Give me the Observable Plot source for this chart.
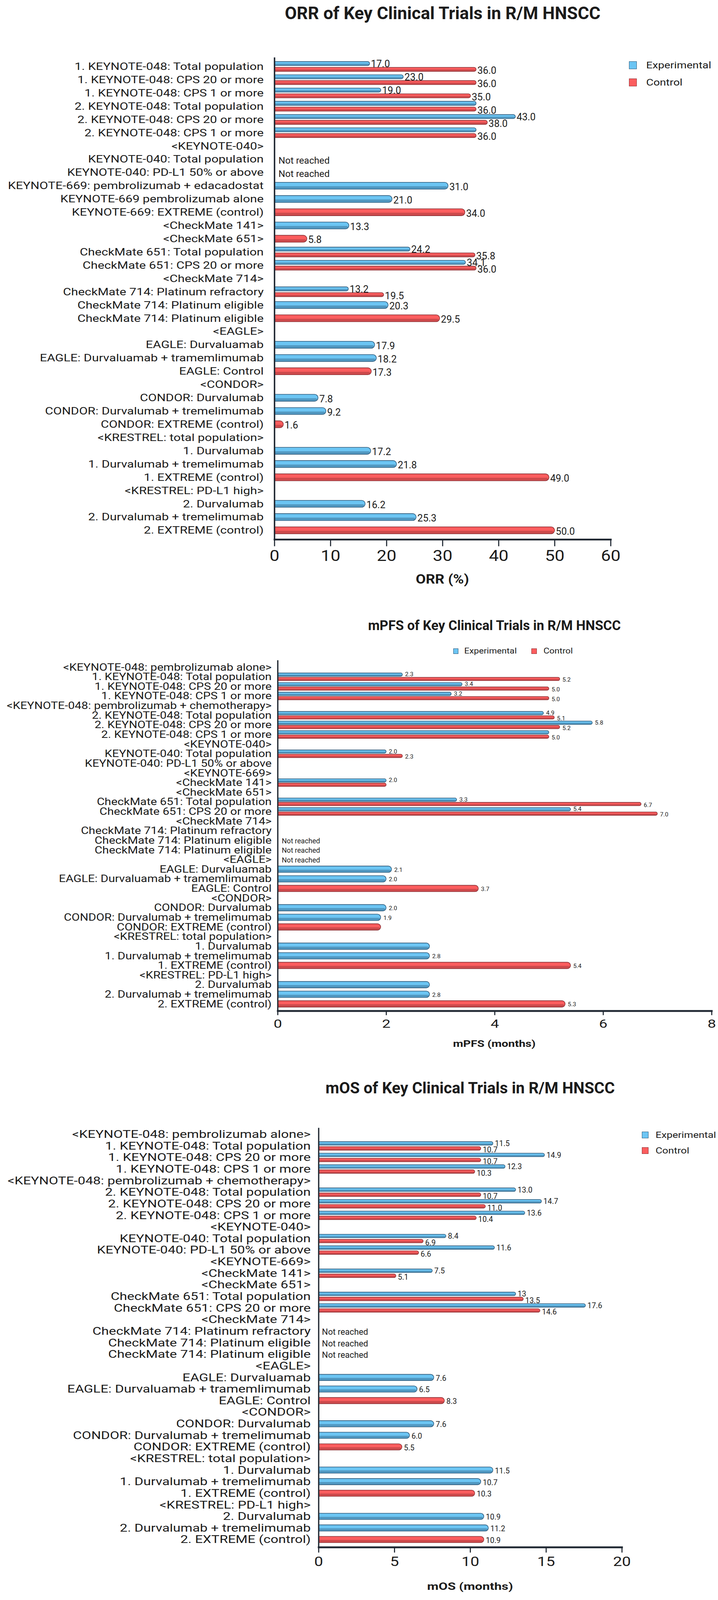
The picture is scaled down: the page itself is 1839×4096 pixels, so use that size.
<!DOCTYPE html>
<html>
<head>
<meta charset="utf-8">
<script src="https://cdn.jsdelivr.net/npm/d3@7"></script>
<script src="https://cdn.jsdelivr.net/npm/@observablehq/plot@0.6"></script>
<style>
  html, body { margin: 0; padding: 0; background: #ffffff; }
  #page { position: relative; width: 1839px; height: 4096px; overflow: hidden; font-family: Roboto, "Noto Sans", sans-serif; color: #1b1b1b; }
  .t { position: absolute; white-space: nowrap; line-height: 1; }
  .sw { position: absolute; box-sizing: border-box; }
</style>
</head>
<body>
<div id="page"></div>
<script>
// ---------------- DATA ----------------
const seriesNames = ["Experimental", "Control"];
const chartTitles = ["ORR of Key Clinical Trials in R/M HNSCC", "mPFS of Key Clinical Trials in R/M HNSCC", "mOS of Key Clinical Trials in R/M HNSCC"];
const axisTitles = ["ORR (%)", "mPFS (months)", "mOS (months)"];

const orrTicks = [0, 10, 20, 30, 40, 50, 60];
const mpfsTicks = [0, 2, 4, 6, 8];
const mosTicks = [0, 5, 10, 15, 20];

const orrCategories = [
  "1. KEYNOTE-048: Total population",
  "1. KEYNOTE-048: CPS 20 or more",
  "1. KEYNOTE-048: CPS 1 or more",
  "2. KEYNOTE-048: Total population",
  "2. KEYNOTE-048: CPS 20 or more",
  "2. KEYNOTE-048: CPS 1 or more",
  "<KEYNOTE-040>",
  "KEYNOTE-040: Total population",
  "KEYNOTE-040: PD-L1 50% or above",
  "KEYNOTE-669: pembrolizumab + edacadostat",
  "KEYNOTE-669 pembrolizumab alone",
  "KEYNOTE-669: EXTREME (control)",
  "<CheckMate 141>",
  "<CheckMate 651>",
  "CheckMate 651: Total population",
  "CheckMate 651: CPS 20 or more",
  "<CheckMate 714>",
  "CheckMate 714: Platinum refractory",
  "CheckMate 714: Platinum eligible",
  "CheckMate 714: Platinum eligible",
  "<EAGLE>",
  "EAGLE: Durvaluamab",
  "EAGLE: Durvaluamab + tramemlimumab",
  "EAGLE: Control",
  "<CONDOR>",
  "CONDOR: Durvalumab",
  "CONDOR: Durvalumab + tremelimumab",
  "CONDOR: EXTREME (control)",
  "<KRESTREL: total population>",
  "1. Durvalumab",
  "1. Durvalumab + tremelimumab",
  "1. EXTREME (control)",
  "<KRESTREL: PD-L1 high>",
  "2. Durvalumab",
  "2. Durvalumab + tremelimumab",
  "2. EXTREME (control)"
];
const orrExperimental = [17.0, 23.0, 19.0, 36.0, 43.0, 36.0, null, null, null, 31.0, 21.0, null, 13.3, null, 24.2, 34.1, null, 13.2, 20.3, null, null, 17.9, 18.2, null, null, 7.8, 9.2, null, null, 17.2, 21.8, null, null, 16.2, 25.3, null];
const orrControl = [36.0, 36.0, 35.0, 36.0, 38.0, 36.0, null, null, null, null, null, 34.0, null, 5.8, 35.8, 36.0, null, 19.5, null, 29.5, null, null, null, 17.3, null, null, null, 1.6, null, null, null, 49.0, null, null, null, 50.0];
const orrExperimentalLabels = ["17.0", "23.0", "19.0", "", "43.0", "", "", "", "", "31.0", "21.0", "", "13.3", "", "24.2", "34.1", "", "13.2", "20.3", "", "", "17.9", "18.2", "", "", "7.8", "9.2", "", "", "17.2", "21.8", "", "", "16.2", "25.3", ""];
const orrControlLabels = ["36.0", "36.0", "35.0", "36.0", "38.0", "36.0", "", "", "", "", "", "34.0", "", "5.8", "35.8", "36.0", "", "19.5", "", "29.5", "", "", "", "17.3", "", "", "", "1.6", "", "", "", "49.0", "", "", "", "50.0"];
const orrNotes = ["", "", "", "", "", "", "", "Not reached", "Not reached", "", "", "", "", "", "", "", "", "", "", "", "", "", "", "", "", "", "", "", "", "", "", "", "", "", "", ""];

const survCategories = [
  "<KEYNOTE-048: pembrolizumab alone>",
  "1. KEYNOTE-048: Total population",
  "1. KEYNOTE-048: CPS 20 or more",
  "1. KEYNOTE-048: CPS 1 or more",
  "<KEYNOTE-048: pembrolizumab + chemotherapy>",
  "2. KEYNOTE-048: Total population",
  "2. KEYNOTE-048: CPS 20 or more",
  "2. KEYNOTE-048: CPS 1 or more",
  "<KEYNOTE-040>",
  "KEYNOTE-040: Total population",
  "KEYNOTE-040: PD-L1 50% or above",
  "<KEYNOTE-669>",
  "<CheckMate 141>",
  "<CheckMate 651>",
  "CheckMate 651: Total population",
  "CheckMate 651: CPS 20 or more",
  "<CheckMate 714>",
  "CheckMate 714: Platinum refractory",
  "CheckMate 714: Platinum eligible",
  "CheckMate 714: Platinum eligible",
  "<EAGLE>",
  "EAGLE: Durvaluamab",
  "EAGLE: Durvaluamab + tramemlimumab",
  "EAGLE: Control",
  "<CONDOR>",
  "CONDOR: Durvalumab",
  "CONDOR: Durvalumab + tremelimumab",
  "CONDOR: EXTREME (control)",
  "<KRESTREL: total population>",
  "1. Durvalumab",
  "1. Durvalumab + tremelimumab",
  "1. EXTREME (control)",
  "<KRESTREL: PD-L1 high>",
  "2. Durvalumab",
  "2. Durvalumab + tremelimumab",
  "2. EXTREME (control)"
];

const mpfsExperimental = [null, 2.3, 3.4, 3.2, null, 4.9, 5.8, 5.0, null, 2.0, null, null, 2.0, null, 3.3, 5.4, null, null, null, null, null, 2.1, 2.0, null, null, 2.0, 1.9, null, null, 2.8, 2.8, null, null, 2.8, 2.8, null];
const mpfsControl = [null, 5.2, 5.0, 5.0, null, 5.1, 5.2, 5.0, null, 2.3, null, null, 2.0, null, 6.7, 7.0, null, null, null, null, null, null, null, 3.7, null, null, null, 1.9, null, null, null, 5.4, null, null, null, 5.3];
const mpfsExperimentalLabels = ["", "2.3", "3.4", "3.2", "", "4.9", "5.8", "", "", "2.0", "", "", "2.0", "", "3.3", "5.4", "", "", "", "", "", "2.1", "2.0", "", "", "2.0", "1.9", "", "", "", "2.8", "", "", "", "2.8", ""];
const mpfsControlLabels = ["", "5.2", "5.0", "5.0", "", "5.1", "5.2", "5.0", "", "2.3", "", "", "", "", "6.7", "7.0", "", "", "", "", "", "", "", "3.7", "", "", "", "", "", "", "", "5.4", "", "", "", "5.3"];
const mpfsNotes = ["", "", "", "", "", "", "", "", "", "", "", "", "", "", "", "", "", "", "Not reached", "Not reached", "Not reached", "", "", "", "", "", "", "", "", "", "", "", "", "", "", ""];

const mosExperimental = [null, 11.5, 14.9, 12.3, null, 13.0, 14.7, 13.6, null, 8.4, 11.6, null, 7.5, null, 13.0, 17.6, null, null, null, null, null, 7.6, 6.5, null, null, 7.6, 6.0, null, null, 11.5, 10.7, null, null, 10.9, 11.2, null];
const mosControl = [null, 10.7, 10.7, 10.3, null, 10.7, 11.0, 10.4, null, 6.9, 6.6, null, 5.1, null, 13.5, 14.6, null, null, null, null, null, null, null, 8.3, null, null, null, 5.5, null, null, null, 10.3, null, null, null, 10.9];
const mosExperimentalLabels = ["", "11.5", "14.9", "12.3", "", "13.0", "14.7", "13.6", "", "8.4", "11.6", "", "7.5", "", "13", "17.6", "", "", "", "", "", "7.6", "6.5", "", "", "7.6", "6.0", "", "", "11.5", "10.7", "", "", "10.9", "11.2", ""];
const mosControlLabels = ["", "10.7", "10.7", "10.3", "", "10.7", "11.0", "10.4", "", "6.9", "6.6", "", "5.1", "", "13.5", "14.6", "", "", "", "", "", "", "", "8.3", "", "", "", "5.5", "", "", "", "10.3", "", "", "", "10.9"];
const mosNotes = ["", "", "", "", "", "", "", "", "", "", "", "", "", "", "", "", "", "Not reached", "Not reached", "Not reached", "", "", "", "", "", "", "", "", "", "", "", "", "", "", "", ""];

// ---------------- STYLE / LAYOUT (reference pixels, scaled by K) ----------------
const K = 0.927;
const W = 1839;
const BLUE = "#6CC5F3", BLUE_D = "#2E5A7B";
const RED = "#FB5D5E", RED_D = "#8C3035";
const AXIS = "#1f2731", TEXT = "#1b1b1b";

const pv = (Plot.version || "0.6.0").split(".").map(Number);
const CORNERS = pv[0] > 0 || pv[1] > 6 || (pv[1] === 6 && pv[2] >= 14);

const layouts = [
  {svgTop: 130, svgBottom: 1580, frameTop: 158, frameBottom: 1489, x0: 758, xMax: 1687, xMaxVal: 60,
   firstRow: 183, lastRow: 1464, tp: 11, off: 8, ts: 19,
   yFs: 28, ySx: 1.24, yPad: 30, tickFs: 42, tickSx: 1.15, tickSize: 19, tickPad: 10,
   xStroke: 5, yStroke: 4, tickStroke: 3,
   valFs: 27, valSx: 1.0, valDx: 3, dyExp: -7, dyCtrl: 11, dySingle: 3,
   noteFs: 26, noteSx: 1.08, noteDx: 11,
   title: {cx: 1223, cy: 37, fs: 48}, axisTitle: {cx: 1222, cy: 1599, fs: 36, sx: 1.12},
   legend: {fs: 26, sx: 1.19, size: 21, items: [{sx: 1738, cy: 180, tx: 1785}, {sx: 1738, cy: 227.5, tx: 1785}]}},
  {svgTop: 1800, svgBottom: 2860, frameTop: 1823, frameBottom: 2791, x0: 767, xMax: 1966, xMaxVal: 8,
   firstRow: 1842, lastRow: 2772, tp: 9, off: 6, ts: 17.5,
   yFs: 27.5, ySx: 1.2, yPad: 17, tickFs: 32, tickSx: 1.3, tickSize: 12, tickPad: 12,
   xStroke: 5, yStroke: 3.5, tickStroke: 3,
   valFs: 16.5, valSx: 1.33, valDx: 7, dyExp: -7, dyCtrl: 8, dySingle: 1,
   noteFs: 19.5, noteSx: 1.2, noteDx: 11,
   title: {cx: 1366, cy: 1727, fs: 37}, axisTitle: {cx: 1366, cy: 2882, fs: 26, sx: 1.25},
   legend: {fs: 21, sx: 1.19, size: 15, items: [{sx: 1252, cy: 1798, tx: 1283}, {sx: 1468, cy: 1798, tx: 1502}]}},
  {svgTop: 3090, svgBottom: 4350, frameTop: 3115, frameBottom: 4273, x0: 880, xMax: 1718, xMaxVal: 20,
   firstRow: 3133, lastRow: 4252, tp: 9.5, off: 7, ts: 17,
   yFs: 29.5, ySx: 1.28, yPad: 22, tickFs: 35, tickSx: 1.25, tickSize: 15, tickPad: 12,
   xStroke: 5, yStroke: 3.5, tickStroke: 3,
   valFs: 21, valSx: 1.2, valDx: 5, dyExp: -6.5, dyCtrl: 11, dySingle: 2,
   noteFs: 23.5, noteSx: 1.08, noteDx: 9,
   title: {cx: 1299, cy: 3005, fs: 43.5}, axisTitle: {cx: 1299, cy: 4382, fs: 28, sx: 1.3},
   legend: {fs: 24, sx: 1.2, size: 18.5, items: [{sx: 1773, cy: 3134, tx: 1811}, {sx: 1773, cy: 3177, tx: 1811}]}}
];

const panels = [
  {rows: orrCategories, exp: orrExperimental, ctrl: orrControl, expText: orrExperimentalLabels, ctrlText: orrControlLabels, notes: orrNotes, ticks: orrTicks},
  {rows: survCategories, exp: mpfsExperimental, ctrl: mpfsControl, expText: mpfsExperimentalLabels, ctrlText: mpfsControlLabels, notes: mpfsNotes, ticks: mpfsTicks},
  {rows: survCategories, exp: mosExperimental, ctrl: mosControl, expText: mosExperimentalLabels, ctrlText: mosControlLabels, notes: mosNotes, ticks: mosTicks}
];

const page = document.getElementById("page");

function stretch(svg, label, sx) {
  if (sx === 1) return;
  svg.querySelectorAll(`g[aria-label="${label}"] text`).forEach((t) => {
    const tr = t.getAttribute("transform");
    if (tr) t.setAttribute("transform", `${tr} scale(${sx},1)`);
    else {
      const x = +t.getAttribute("x") || 0, y = +t.getAttribute("y") || 0;
      t.removeAttribute("x"); t.removeAttribute("y");
      t.setAttribute("transform", `translate(${x},${y}) scale(${sx},1)`);
    }
  });
}

function addText(str, o) {
  const d = document.createElement("div");
  d.className = "t";
  d.textContent = str;
  const fs = o.fs * K;
  d.style.fontSize = fs + "px";
  d.style.fontWeight = o.weight || 400;
  d.style.left = o.x * K + "px";
  d.style.top = (o.cy * K - 0.49 * fs) + "px";
  const sx = o.sx || 1;
  if (o.anchor === "middle") {
    d.style.transformOrigin = "center center";
    d.style.transform = `translateX(-50%) scaleX(${sx})`;
  } else {
    d.style.transformOrigin = "left center";
    d.style.transform = `scaleX(${sx})`;
  }
  page.appendChild(d);
}

function addSwatch(o, fill, stroke) {
  const d = document.createElement("div");
  d.className = "sw";
  const s = o.size * K;
  d.style.left = o.x * K + "px";
  d.style.top = (o.cy * K - s / 2) + "px";
  d.style.width = s + "px";
  d.style.height = s + "px";
  d.style.background = fill;
  d.style.border = `${2 * K}px solid ${stroke}`;
  page.appendChild(d);
}

function barGroup(rows, field, color, dark, top, bottom, t) {
  const th = t * K;
  const r = th / 2;
  const shadeT = th * 0.38;
  const round = CORNERS ? {rx2: r} : {rx: r};
  const roundS = CORNERS ? {rx2: shadeT / 2} : {rx: shadeT / 2};
  return [
    Plot.barX(rows, {x: field, y: "i", fill: color, insetTop: top, insetBottom: bottom, ...round}),
    Plot.barX(rows, {x: field, y: "i", fill: dark, fillOpacity: 0.42, insetTop: top + th - shadeT - 0.9, insetBottom: bottom + 0.9, insetRight: th * 0.14, ...roundS}),
    Plot.barX(rows, {x: field, y: "i", fill: "none", stroke: dark, strokeWidth: 1.6, insetTop: top, insetBottom: bottom, ...round})
  ];
}

panels.forEach((P, pi) => {
  const L = layouts[pi];
  const n = P.rows.length;
  const data = P.rows.map((label, i) => ({i, label, exp: P.exp[i], ctrl: P.ctrl[i], expText: P.expText[i], ctrlText: P.ctrlText[i], note: P.notes[i]}));
  const s = (L.lastRow - L.firstRow) / (n - 1);
  const b = s * K;
  const insetTop = (L.firstRow - s / 2 - L.frameTop) * K;
  const insetBottom = (L.frameBottom - (L.lastRow + s / 2)) * K;
  const height = (L.svgBottom - L.svgTop) * K;
  const marginTop = (L.frameTop - L.svgTop) * K;
  const marginBottom = (L.svgBottom - L.frameBottom) * K;
  const marginLeft = L.x0 * K;
  const marginRight = W - L.xMax * K;

  const paired = data.filter((d) => d.exp != null && d.ctrl != null);
  const singleExp = data.filter((d) => d.exp != null && d.ctrl == null);
  const singleCtrl = data.filter((d) => d.ctrl != null && d.exp == null);

  const tp = L.tp * K, off = L.off * K, ts = L.ts * K;
  const topA = b / 2 - off - tp / 2, botA = b / 2 + off - tp / 2;
  const sIn = (b - ts) / 2;

  const bars = [
    ...barGroup(paired, "exp", BLUE, BLUE_D, topA, botA, L.tp),
    ...barGroup(paired, "ctrl", RED, RED_D, botA, topA, L.tp),
    ...barGroup(singleExp, "exp", BLUE, BLUE_D, sIn, sIn, L.ts),
    ...barGroup(singleCtrl, "ctrl", RED, RED_D, sIn, sIn, L.ts)
  ];

  const txt = {textAnchor: "start", fontSize: L.valFs * K, fill: TEXT, dx: L.valDx * K, ariaLabel: "value-label"};
  const labels = [
    Plot.text(paired.filter((d) => d.expText), {...txt, x: "exp", y: "i", text: "expText", dy: L.dyExp * K}),
    Plot.text(paired.filter((d) => d.ctrlText), {...txt, x: "ctrl", y: "i", text: "ctrlText", dy: L.dyCtrl * K}),
    Plot.text(singleExp.filter((d) => d.expText), {...txt, x: "exp", y: "i", text: "expText", dy: L.dySingle * K}),
    Plot.text(singleCtrl.filter((d) => d.ctrlText), {...txt, x: "ctrl", y: "i", text: "ctrlText", dy: L.dySingle * K}),
    Plot.text(data.filter((d) => d.note), {x: () => 0, y: "i", text: "note", textAnchor: "start", fontSize: L.noteFs * K, fill: TEXT, dx: L.noteDx * K, dy: L.dySingle * K, ariaLabel: "note-label"})
  ];

  const svg = Plot.plot({
    width: W, height, marginTop, marginBottom, marginLeft, marginRight,
    style: {fontFamily: "Roboto, 'Noto Sans', sans-serif", background: "transparent", color: TEXT, overflow: "visible"},
    x: {domain: [0, L.xMaxVal]},
    y: {type: "band", domain: d3.range(n), padding: 0, insetTop, insetBottom, round: false},
    marks: [
      ...bars,
      ...labels,
      Plot.ruleX([0], {stroke: AXIS, strokeWidth: L.yStroke * K}),
      Plot.frame({anchor: "bottom", stroke: AXIS, strokeWidth: L.xStroke * K}),
      Plot.axisY({tickSize: 0, tickPadding: L.yPad * K, fontSize: L.yFs * K, tickFormat: (i) => P.rows[i], label: null, fill: TEXT}),
      Plot.axisX({ticks: P.ticks, tickFormat: (d) => String(d), tickSize: L.tickSize * K, tickPadding: L.tickPad * K, fontSize: L.tickFs * K, stroke: AXIS, strokeWidth: L.tickStroke * K, label: null, fill: TEXT})
    ]
  });
  stretch(svg, "y-axis tick label", L.ySx);
  stretch(svg, "x-axis tick label", L.tickSx);
  stretch(svg, "value-label", L.valSx);
  stretch(svg, "note-label", L.noteSx);
  svg.style.position = "absolute";
  svg.style.left = "0px";
  svg.style.top = L.svgTop * K + "px";
  svg.style.maxWidth = "none";
  page.appendChild(svg);

  // titles
  addText(chartTitles[pi], {x: L.title.cx, cy: L.title.cy, fs: L.title.fs, weight: 700, anchor: "middle"});
  addText(axisTitles[pi], {x: L.axisTitle.cx, cy: L.axisTitle.cy, fs: L.axisTitle.fs, weight: 700, anchor: "middle", sx: L.axisTitle.sx});
  // legend
  const lg = L.legend;
  [[BLUE, BLUE_D], [RED, RED_D]].forEach(([f, st], k) => {
    const it = lg.items[k];
    addSwatch({x: it.sx, cy: it.cy, size: lg.size}, f, st);
    addText(seriesNames[k], {x: it.tx, cy: it.cy, fs: lg.fs, sx: lg.sx});
  });
});
</script>
</body>
</html>
